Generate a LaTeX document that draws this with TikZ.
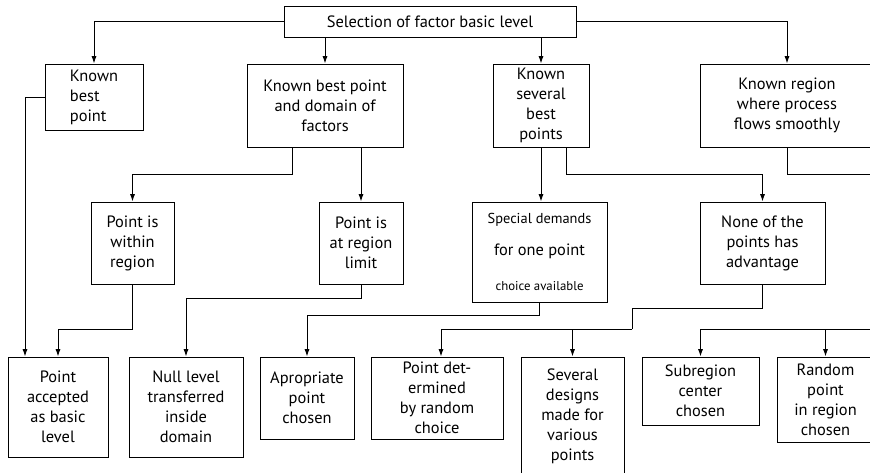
\documentclass[tikz,border=0pt]{standalone}
\usepackage{fontspec}
\setmainfont{PT Sans}
\usetikzlibrary{arrows.meta}

\begin{document}
\begin{tikzpicture}[x=0.75pt, y=-0.75pt, line width=0.75pt,
  box/.style 2 args={draw, inner sep=0pt, align=center,
    minimum width=#1*0.75pt, minimum height=#2*0.75pt,
    font=\fontsize{12.3}{15}\selectfont},
  arr/.style={-{Latex[length=5.5pt,width=3.8pt]}}]
  \useasboundingbox (0,0) rectangle (870,472);
  \clip (0,0) rectangle (870,472);

  \node[box={292}{31}] (sel) at (430,21.5) {Selection of factor basic level};

  \node[box={98}{66}, align=left] (kbp) at (94,97) {Known\\best\\point};
  \node[box={156}{83}] (kbpd) at (325,105.5) {Known best point\\and domain of\\factors};
  \node[box={96}{83}] (ksb) at (541,105.5) {Known\\several\\best\\points};
  \node[box={174}{83}] (kreg) at (787,105.5) {Known region\\where process\\flows smoothly};

  \node[box={83}{82}] (within) at (132.5,243) {Point is\\within\\region};
  \node[box={84}{82}] (limit) at (361,243) {Point is\\at region\\limit};
  \node[box={135}{100}] (special) at (539.5,252)
    {{\fontsize{10.8}{15}\selectfont Special demands}\\[9pt]
     for one point\\[11pt]
     {\fontsize{9.6}{15}\selectfont choice available}};
  \node[box={125}{82}] (none) at (762.5,243) {None of the\\points has\\advantage};

  \node[box={100}{100}] (accepted) at (58,407) {Point\\accepted\\as basic\\level};
  \node[box={114}{100}] (null) at (186,407) {Null level\\transferred\\inside\\domain};
  \node[box={94}{82}] (approp) at (307,398) {Apropriate\\point\\chosen};
  \node[box={132}{82}] (determined) at (437,398) {Point det-\\ermined\\by random\\choice};
  \node[box={103}{119}] (several) at (572.5,416.5) {Several\\designs\\made for\\various\\points};
  \node[box={117}{68}] (subreg) at (700.5,391) {Subregion\\center\\chosen};
  \node[box={97}{85}] (random) at (825.5,399.5) {Random\\point\\in region\\chosen};

  \coordinate (split) at (632,329);
  \coordinate (offA) at (880,174);
  \coordinate (offB) at (880,329);

  \draw[arr] (sel.west) -| (kbp);
  \draw[arr] (sel.south -| kbpd) -- (kbpd);
  \draw[arr] (sel.south -| ksb) -- (ksb);
  \draw[arr] (sel.east) -| (kreg);

  \draw[arr] ([shift={(-33,0)}]kbpd.south) -- ++(0,27) -| (within);
  \draw[arr] (kbpd.south -| limit) -- (limit);
  \draw[arr] (ksb.south) -- (ksb.south |- special.north);
  \draw[arr] ([shift={(25,0)}]ksb.south) -- ++(0,27) -| (none);
  \draw (kreg.south) |- (offA);

  \draw[arr] (kbp.west) -| ([shift={(-33,0)}]accepted.north);
  \draw[arr] (within.south) -- ++(0,45) -| (accepted);
  \draw[arr] (limit.south) -- ++(0,14) -| (null);
  \draw[arr] (special.south) -- ++(0,13) -| (approp);
  \draw (none.south) -- ++(0,24) -| (split);
  \draw[arr] (split) -| ([shift={(4,0)}]determined.north);
  \draw[arr] (split) -| (several);
  \draw[arr] (offB) -| (subreg);
  \draw[arr] (offB) -| (random);
\end{tikzpicture}
\end{document}
